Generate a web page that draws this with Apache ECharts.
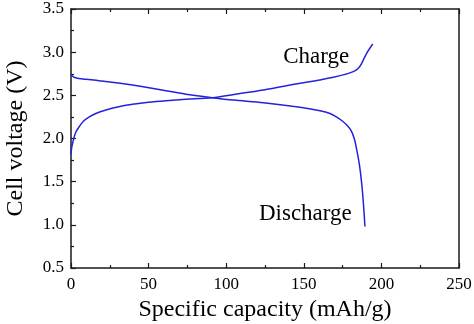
<!DOCTYPE html>
<html>
<head>
<meta charset="utf-8">
<script src="https://cdn.jsdelivr.net/npm/echarts@6/dist/echarts.min.js"></script>
<style>
  html, body { margin: 0; padding: 0; background: #fff; }
  #chart { width: 474px; height: 324px; }
</style>
</head>
<body>
<div id="chart"></div>
<script>
// Charge / discharge profile: [capacity mAh/g, voltage V]
const chargeCurve = [
  [0, 1.82], [0.5, 1.9], [1.5, 1.98], [3, 2.07], [5.4, 2.14], [8, 2.2], [11.8, 2.25],
  [16, 2.29], [22.5, 2.33], [30, 2.365], [39.7, 2.396], [50, 2.42], [61.2, 2.438],
  [74, 2.454], [91, 2.473], [105, 2.51], [124, 2.562], [147.6, 2.639], [160.4, 2.678],
  [169, 2.709], [176, 2.74], [181.9, 2.774], [185, 2.81], [187.3, 2.871], [190.5, 2.987],
  [194.4, 3.095]
];
const dischargeCurve = [
  [0, 2.74], [0.8, 2.725], [2, 2.71], [5, 2.695], [10, 2.685], [18.2, 2.67], [39.7, 2.62],
  [61.2, 2.554], [74, 2.512], [91, 2.473], [105, 2.445], [124, 2.415], [147.6, 2.361],
  [160.4, 2.322], [166.9, 2.29], [171, 2.25], [175, 2.2], [178, 2.15], [180.5, 2.09],
  [182.5, 2.0], [184, 1.88], [185.8, 1.7], [187.3, 1.48], [188.4, 1.25], [189.4, 0.98]
];
const xTicks = { min: 0, max: 250, step: 50 };
const yTicks = { min: 0.5, max: 3.5, step: 0.5 };
const annotations = [
  { text: 'Charge', at: [158, 2.95] },
  { text: 'Discharge', at: [151, 1.13] }
];

const serif = '"Liberation Serif", "DejaVu Serif", serif';
const lineColor = '#2323dd';
const axisColor = '#1a1a1a';
const textColor = '#000';

const chart = echarts.init(document.getElementById('chart'), null, { renderer: 'canvas' });

const baseX = {
  type: 'value', min: xTicks.min, max: xTicks.max, interval: xTicks.step,
  axisLine: { show: true, onZero: false, lineStyle: { color: axisColor, width: 1.5 } },
  axisTick: { show: true, inside: true, length: 5, lineStyle: { color: axisColor, width: 1.2 } },
  minorTick: { show: true, splitNumber: 2, length: 3, lineStyle: { color: axisColor, width: 1.2 } },
  splitLine: { show: false }
};
const baseY = {
  type: 'value', min: yTicks.min, max: yTicks.max, interval: yTicks.step,
  axisLine: { show: true, onZero: false, lineStyle: { color: axisColor, width: 1.5 } },
  axisTick: { show: true, inside: true, length: 5, lineStyle: { color: axisColor, width: 1.2 } },
  minorTick: { show: true, splitNumber: 2, length: 3, lineStyle: { color: axisColor, width: 1.2 } },
  splitLine: { show: false }
};

chart.setOption({
  animation: false,
  backgroundColor: '#fff',
  grid: { left: 71, right: 15, top: 9, bottom: 56, containLabel: false, outerBoundsMode: 'none' },
  xAxis: [
    Object.assign({}, baseX, {
      position: 'bottom',
      name: 'Specific capacity (mAh/g)',
      nameLocation: 'middle', nameGap: 27,
      nameTextStyle: { fontFamily: serif, fontSize: 24, color: textColor },
      axisLabel: { fontFamily: serif, fontSize: 17, color: textColor, margin: 8 }
    }),
    Object.assign({}, baseX, {
      position: 'top',
      axisLabel: { show: false }
    })
  ],
  yAxis: [
    Object.assign({}, baseY, {
      position: 'left',
      name: 'Cell voltage (V)',
      nameLocation: 'middle', nameGap: 43,
      nameTextStyle: { fontFamily: serif, fontSize: 24, color: textColor },
      axisLabel: { fontFamily: serif, fontSize: 17, color: textColor, margin: 7,
        formatter: v => v.toFixed(1) }
    }),
    Object.assign({}, baseY, {
      position: 'right',
      axisTick: { show: false },
      minorTick: { show: false },
      axisLabel: { show: false }
    })
  ],
  series: [
    {
      name: 'Charge', type: 'line', data: chargeCurve, smooth: 0.3,
      showSymbol: false, lineStyle: { color: lineColor, width: 1.5 }
    },
    {
      name: 'Discharge', type: 'line', data: dischargeCurve, smooth: 0.3,
      showSymbol: false, lineStyle: { color: lineColor, width: 1.5 }
    },
    {
      name: 'labels', type: 'scatter', symbolSize: 0, silent: true,
      itemStyle: { opacity: 1 },
      data: annotations.map(a => ({ value: a.at, name: a.text })),
      label: {
        show: true, position: 'inside', formatter: p => p.name, opacity: 1,
        fontFamily: serif, fontSize: 23, color: textColor
      }
    }
  ]
});
</script>
</body>
</html>
